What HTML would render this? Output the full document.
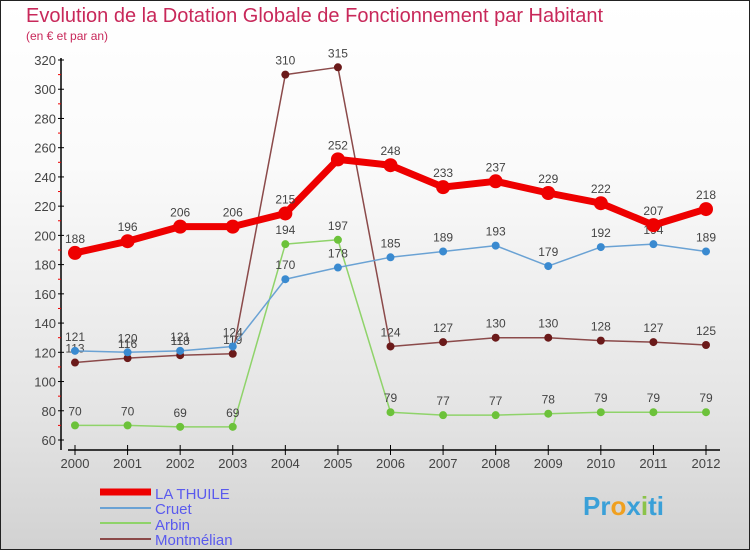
<!DOCTYPE html>
<html><head><meta charset="utf-8"><style>
body{margin:0;width:750px;height:550px;overflow:hidden;font-family:"Liberation Sans",sans-serif}
#wrap{position:absolute;left:0;top:0;width:748px;height:548px;border:1px solid #222;background:linear-gradient(#fff,#fafafa 30%,#e4e4e4 75%,#d2d2d2)}
</style></head><body>
<div id="wrap">
<svg id="c" width="750" height="550" style="position:absolute;left:-1px;top:-1px">
<text x="26" y="22" font-size="20" fill="#c8285a">Evolution de la Dotation Globale de Fonctionnement par Habitant</text>
<text x="26" y="40" font-size="12" fill="#c8285a">(en € et par an)</text>
<g id="axes"></g><g id="series"></g>
<g>
<line x1="100" y1="492" x2="151" y2="492" stroke="#e00" stroke-width="7"/>
<text x="155" y="499" font-size="15" fill="#5a5aee">LA THUILE</text>
<line x1="100" y1="508" x2="151" y2="508" stroke="#6aa2d4" stroke-width="2"/>
<text x="155" y="514" font-size="15" fill="#5a5aee">Cruet</text>
<line x1="100" y1="523" x2="151" y2="523" stroke="#8fd36a" stroke-width="2"/>
<text x="155" y="530" font-size="15" fill="#5a5aee">Arbin</text>
<line x1="100" y1="539" x2="151" y2="539" stroke="#8b4a4a" stroke-width="2"/>
<text x="155" y="545" font-size="15" fill="#5a5aee">Montmélian</text>
</g>
<text x="583" y="515" font-size="26" font-weight="bold" fill="#3aa0d8">Pr<tspan fill="#f0a020">o</tspan><tspan fill="#3aa0d8">x</tspan><tspan fill="#8bc34a">i</tspan>ti</text>
</svg></div>
<script>
const years=[2000,2001,2002,2003,2004,2005,2006,2007,2008,2009,2010,2011,2012];
const yTicks=[60,80,100,120,140,160,180,200,220,240,260,280,300,320];
const laThuile=[188,196,206,206,215,252,248,233,237,229,222,207,218];
const cruet=[121,120,121,124,170,178,185,189,193,179,192,194,189];
const arbin=[70,70,69,69,194,197,79,77,77,78,79,79,79];
const montmelian=[113,116,118,119,310,315,124,127,130,130,128,127,125];
const NS="http://www.w3.org/2000/svg";
const X=i=>75+i*(706-75)/12;
const Y=v=>440-(v-60)*(380/260);
function mk(t,a,p){const e=document.createElementNS(NS,t);for(const k in a)e.setAttribute(k,a[k]);p.appendChild(e);return e;}
const ax=document.getElementById('axes');
mk('line',{x1:61,y1:58,x2:61,y2:450,stroke:'#000','stroke-width':1.5},ax);
mk('line',{x1:68,y1:450,x2:720,y2:450,stroke:'#000','stroke-width':1.5},ax);
yTicks.forEach(v=>{
 const t=mk('text',{x:56,y:Y(v)+5,'font-size':13,fill:'#444','text-anchor':'end'},ax);t.textContent=v;
 
 
 mk('line',{x1:58,y1:Y(v),x2:64,y2:Y(v),stroke:'#000'},ax);
 if(v<320)mk('line',{x1:58,y1:Y(v+10),x2:61,y2:Y(v+10),stroke:'#e00'},ax);
});
years.forEach((yr,i)=>{
 mk('line',{x1:X(i),y1:445,x2:X(i),y2:455,stroke:'#000'},ax);
 const t=mk('text',{x:X(i),y:468,'font-size':13,fill:'#444','text-anchor':'middle'},ax);t.textContent=yr;
 
 
});
const sg=document.getElementById('series');
function draw(name,vals,col,dot,w,r){
 const g=mk('g',{},sg);
 
 
 mk('polyline',{points:vals.map((v,i)=>X(i)+','+Y(v)).join(' '),fill:'none',stroke:col,'stroke-width':w,'stroke-linejoin':'round'},g);
 vals.forEach((v,i)=>{
  const c=mk('circle',{cx:X(i),cy:Y(v),r:r,fill:dot},g);
  
  
  const t=mk('text',{x:X(i),y:Y(v)-10,'font-size':12,fill:'#444','text-anchor':'middle'},g);t.textContent=v;
 });
}
draw('series-arbin',arbin,'#8fd36a','#6cc23a',1.5,4);
draw('series-montmelian',montmelian,'#8b4a4a','#6b1a1a',1.5,4);
draw('series-cruet',cruet,'#6aa2d4','#3a8ad0',1.5,4);
draw('series-la-thuile',laThuile,'#e00','#e00',7,7);
</script>
</body></html>
